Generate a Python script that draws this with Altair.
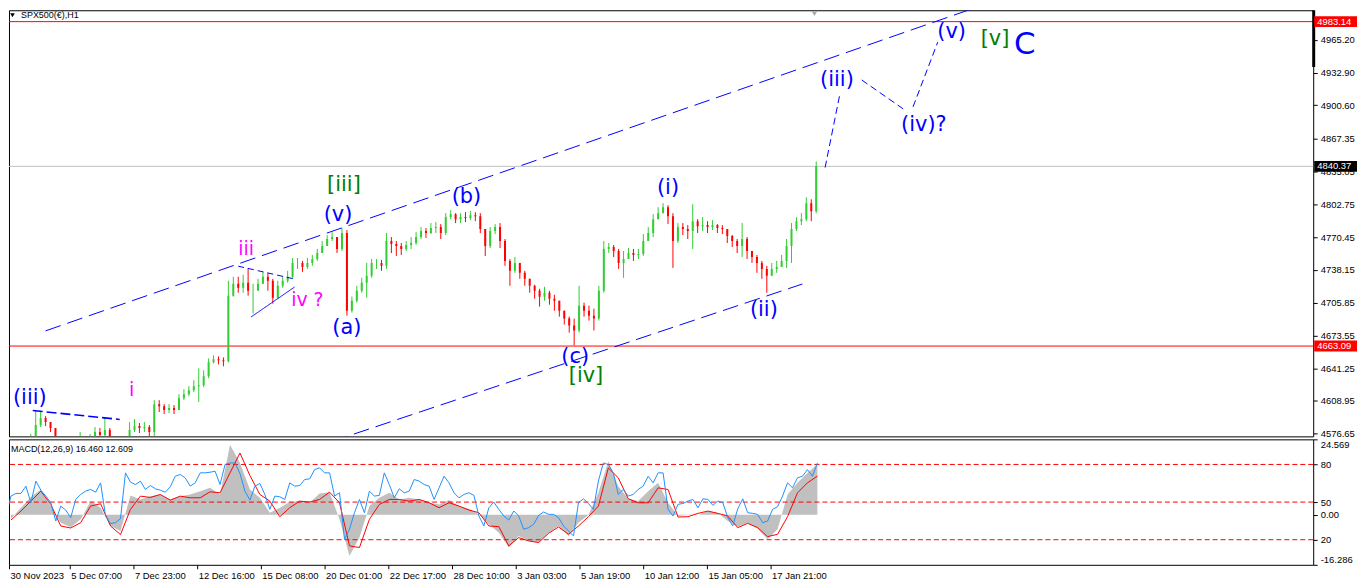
import altair as alt
import pandas as pd

FONT = "Liberation Sans"
WAVE_FONT = "DejaVu Sans"
GREEN = "#32CD32"
RED = "#FF0000"

# ---------------- price data: one candle per 5 hourly bars ----------------
chart_title = "SPX500(€),H1"
candle_step = 5
first_open = 4570.0
closes = [
    4565.6, 4563.6, 4565.6, 4567.5, 4572.4, 4585.2, 4592.1, 4588.1, 4582.3, 4570.5,
    4562.6, 4560.7, 4562.6, 4564.6, 4570.5, 4565.6, 4570.5, 4578.3, 4575.4, 4580.3,
    4570.5, 4562.6, 4560.7, 4565.6, 4580.3, 4584.2, 4582.3, 4583.2, 4578.3, 4605.8,
    4603.8, 4599.9, 4601.9, 4599.9, 4611.7, 4615.6, 4619.5, 4623.5, 4624.4, 4633.3,
    4647.0, 4650.0, 4649.0, 4648.0, 4712.8, 4724.5, 4720.6, 4725.5, 4717.7, 4717.7,
    4724.5, 4731.4, 4727.5, 4710.8, 4722.6, 4727.5, 4731.4, 4745.1, 4745.1, 4741.2,
    4745.1, 4749.0, 4754.9, 4761.8, 4768.7, 4770.6, 4758.9, 4774.6, 4698.0, 4707.8,
    4717.7, 4725.5, 4732.4, 4745.1, 4745.1, 4742.2, 4766.7, 4763.8, 4761.8, 4758.9,
    4762.8, 4764.8, 4770.6, 4776.5, 4774.6, 4779.5, 4780.5, 4774.6, 4790.3, 4793.2,
    4788.3, 4790.3, 4789.3, 4792.2, 4791.2, 4778.5, 4761.8, 4776.5, 4780.5, 4766.7,
    4747.1, 4737.3, 4745.1, 4735.3, 4729.4, 4722.6, 4717.7, 4711.8, 4715.7, 4709.8,
    4707.8, 4698.0, 4690.2, 4683.3, 4678.4, 4702.9, 4698.0, 4693.1, 4690.2, 4717.7,
    4758.9, 4760.8, 4756.9, 4745.1, 4749.0, 4754.9, 4753.0, 4754.0, 4766.7, 4774.6,
    4788.3, 4794.2, 4800.1, 4791.2, 4766.7, 4780.5, 4778.5, 4776.5, 4786.3, 4781.4,
    4782.4, 4780.5, 4782.4, 4779.5, 4778.5, 4771.6, 4766.7, 4761.8, 4768.7, 4756.9,
    4751.0, 4745.1, 4739.2, 4732.4, 4739.2, 4741.2, 4747.1, 4761.8, 4778.5, 4786.3,
    4788.3, 4804.0, 4796.2, 4840.37,
]
highs = [
    4570.5, 4568.5, 4570.5, 4572.4, 4576.4, 4599.9, 4598.0, 4594.0, 4588.1, 4582.3,
    4572.4, 4565.6, 4567.5, 4569.5, 4578.3, 4572.4, 4576.4, 4583.2, 4582.3, 4593.0,
    4582.3, 4572.4, 4566.6, 4570.5, 4588.1, 4591.1, 4587.2, 4588.1, 4585.2, 4609.7,
    4609.7, 4605.8, 4605.8, 4604.8, 4615.6, 4620.5, 4623.5, 4629.3, 4641.1, 4639.2,
    4650.9, 4653.9, 4652.9, 4651.9, 4727.5, 4731.4, 4731.4, 4733.4, 4740.2, 4724.5,
    4729.4, 4736.3, 4735.3, 4729.4, 4727.5, 4732.4, 4737.3, 4750.0, 4750.0, 4747.1,
    4750.0, 4753.0, 4758.9, 4766.7, 4772.6, 4775.5, 4770.6, 4779.5, 4777.5, 4711.8,
    4722.6, 4730.4, 4745.1, 4749.0, 4749.0, 4748.1, 4774.6, 4770.6, 4766.7, 4764.8,
    4766.7, 4770.6, 4775.5, 4780.5, 4779.5, 4784.4, 4785.4, 4783.4, 4794.2, 4797.1,
    4794.2, 4794.2, 4795.2, 4796.2, 4795.2, 4794.2, 4778.5, 4780.5, 4783.4, 4784.4,
    4768.7, 4749.0, 4751.0, 4745.1, 4737.3, 4729.4, 4723.5, 4719.6, 4721.6, 4717.7,
    4713.7, 4707.8, 4698.0, 4692.1, 4690.2, 4722.6, 4705.9, 4702.9, 4700.0, 4722.6,
    4766.7, 4764.8, 4762.8, 4758.9, 4756.9, 4759.8, 4758.9, 4758.9, 4773.6, 4780.5,
    4793.2, 4800.1, 4804.0, 4802.0, 4794.2, 4784.4, 4784.4, 4782.4, 4803.0, 4788.3,
    4790.3, 4786.3, 4787.3, 4783.4, 4782.4, 4778.5, 4772.6, 4768.7, 4784.4, 4770.6,
    4756.9, 4753.0, 4747.1, 4742.2, 4745.1, 4747.1, 4753.0, 4768.7, 4784.4, 4790.3,
    4794.2, 4809.9, 4807.9, 4845.2,
]
lows = [
    4560.7, 4558.7, 4560.7, 4562.6, 4566.6, 4570.5, 4583.2, 4584.2, 4578.3, 4564.6,
    4555.8, 4554.8, 4555.8, 4558.7, 4564.6, 4560.7, 4564.6, 4570.5, 4570.5, 4572.4,
    4564.6, 4556.7, 4554.8, 4558.7, 4563.6, 4578.3, 4577.3, 4578.3, 4572.4, 4574.4,
    4598.0, 4596.0, 4597.0, 4596.0, 4599.9, 4609.7, 4613.6, 4617.6, 4607.8, 4622.5,
    4631.4, 4646.0, 4645.0, 4643.1, 4647.0, 4711.8, 4715.7, 4715.7, 4712.8, 4695.1,
    4717.7, 4724.5, 4717.7, 4704.9, 4709.8, 4720.6, 4725.5, 4729.4, 4739.2, 4736.3,
    4739.2, 4742.2, 4747.1, 4754.9, 4761.8, 4766.7, 4754.9, 4756.9, 4693.1, 4696.1,
    4705.9, 4715.7, 4710.8, 4730.4, 4739.2, 4737.3, 4739.2, 4754.9, 4752.0, 4753.0,
    4756.9, 4758.9, 4762.8, 4768.7, 4769.7, 4773.6, 4774.6, 4768.7, 4772.6, 4788.3,
    4784.4, 4784.4, 4785.4, 4787.3, 4786.3, 4774.6, 4752.0, 4759.8, 4773.6, 4759.8,
    4742.2, 4722.6, 4735.3, 4729.4, 4722.6, 4715.7, 4709.8, 4702.0, 4707.8, 4703.9,
    4698.0, 4692.1, 4684.3, 4676.4, 4663.7, 4676.4, 4692.1, 4688.2, 4678.4, 4688.2,
    4715.7, 4754.9, 4751.0, 4739.2, 4730.4, 4749.0, 4747.1, 4749.0, 4752.0, 4766.7,
    4770.6, 4788.3, 4794.2, 4783.4, 4740.2, 4764.8, 4772.6, 4768.7, 4758.9, 4774.6,
    4776.5, 4774.6, 4777.5, 4774.6, 4773.6, 4764.8, 4760.8, 4754.9, 4751.0, 4749.0,
    4745.1, 4735.3, 4729.4, 4715.7, 4732.4, 4735.3, 4741.2, 4740.2, 4745.1, 4776.5,
    4782.4, 4786.3, 4786.3, 4794.2,
]

price_lo, price_hi = 4574.0, 4994.35
price_ticks = [4965.20, 4932.90, 4900.60, 4867.35, 4835.05, 4802.75, 4770.45,
               4738.15, 4705.85, 4673.55, 4641.25, 4608.95, 4576.65]
red_levels = [4983.14, 4663.09]
last_price = 4840.37

# ---------------- time axis (bar index, one unit per hourly bar) ----------------
x_first, x_last = 3, 1313
time_tick_step = 64
time_labels = ["30 Nov 2023", "5 Dec 07:00", "7 Dec 23:00", "12 Dec 16:00", "15 Dec 08:00",
               "20 Dec 01:00", "22 Dec 17:00", "28 Dec 10:00", "3 Jan 03:00", "5 Jan 19:00",
               "10 Jan 12:00", "15 Jan 05:00", "17 Jan 21:00"]

# ---------------- MACD window ----------------
macd_title = "MACD(12,26,9) 16.460 12.609"
macd_min, macd_max = -16.286, 24.569
macd_first_bar, macd_step = 5, 10
macd_hist = [
    -1.27, 2.30, 5.76, 8.24, 2.84, -2.57, -4.08, -1.49, 4.46, 2.30,
    -3.65, -5.27, 6.30, 5.00, 6.08, 6.62, 5.00, 6.08, 6.62, 7.70,
    8.78, 6.62, 22.8, 16.89, 8.24, 5.54, 0.68, 2.30, 4.14, 4.46,
    3.92, 6.95, 7.38, -1.49, -13.38, -7.43, 2.84, 5.54, 7.16, 5.00,
    5.54, 5.00, 3.92, 3.38, 4.78, 2.84, 1.97, 0.14, -3.11, -5.81,
    -10.67, -6.89, -8.51, -9.05, -5.81, -3.65, -6.89, -2.57, -0.08, 7.16,
    17.43, 9.32, 5.22, 4.46, 7.70, 10.41, 3.92, -0.40, -0.08, -0.08,
    1.22, 0.68, -2.03, -3.86, -2.57, -4.51, -7.97, -4.73, 6.62, 10.41,
    13.65, 16.46,
]
macd_signal = [
    -1.70, 1.22, 4.46, 7.70, 3.38, -3.65, -4.30, -2.57, 2.84, 3.60,
    -3.65, -6.46, 1.76, 6.08, 5.65, 6.62, 4.78, 6.08, 5.54, 5.54,
    7.49, 7.16, 13.65, 20.13, 12.78, 6.62, 4.46, -0.62, 2.30, 4.46,
    4.14, 5.00, 7.38, 3.92, -10.13, -10.67, -1.49, 3.38, 5.00, 5.00,
    4.46, 5.00, 3.92, 2.30, 3.92, 2.84, 1.54, 0.68, -3.65, -3.86,
    -10.13, -7.43, -8.51, -9.05, -6.03, -3.97, -6.35, -3.65, -0.62, 2.84,
    15.27, 12.03, 5.22, 3.92, 3.92, 8.78, 8.24, -0.73, -0.62, 0.46,
    1.22, 0.46, -0.40, -4.19, -2.78, -4.19, -7.11, -6.35, -0.62, 7.16,
    10.41, 12.61,
]
osc_step = 5
osc_levels = [80, 50, 20]
osc_line = [
    38.9, 54.8, 56.9, 56.9, 62.7, 49.5, 66.7, 59.5, 54.8, 49.5,
    34.9, 46.8, 43.6, 37.6, 52.1, 56.1, 58.7, 60.1, 57.9, 65.3,
    38.9, 32.8, 33.6, 36.8, 73.3, 65.9, 64.0, 66.7, 60.1, 63.2,
    60.6, 59.5, 57.9, 62.2, 70.6, 72.0, 69.3, 62.7, 65.3, 73.3,
    73.3, 73.8, 74.6, 64.0, 79.9, 81.2, 81.2, 72.8, 58.7, 51.6,
    62.7, 64.8, 56.1, 44.2, 54.8, 54.2, 52.1, 65.3, 62.7, 63.2,
    68.0, 68.5, 75.9, 77.3, 73.3, 73.3, 54.8, 57.4, 20.4, 28.3,
    41.5, 52.1, 41.5, 58.7, 54.8, 55.3, 73.3, 64.0, 53.4, 60.6,
    57.4, 58.7, 68.0, 66.7, 64.0, 62.7, 52.1, 61.4, 70.6, 65.3,
    57.4, 53.4, 56.1, 57.4, 55.3, 38.9, 31.0, 45.5, 50.0, 44.2,
    38.9, 35.7, 42.9, 38.9, 28.3, 29.6, 32.3, 39.4, 42.1, 40.2,
    40.2, 37.6, 31.0, 27.0, 23.0, 49.5, 52.6, 48.9, 44.2, 66.7,
    81.2, 79.9, 73.3, 56.1, 60.1, 54.8, 56.1, 60.1, 62.7, 70.6,
    65.3, 73.3, 73.3, 44.2, 38.9, 48.2, 48.9, 50.8, 52.1, 45.5,
    52.6, 52.1, 47.4, 50.8, 49.5, 37.6, 31.0, 44.7, 52.6, 41.5,
    41.0, 40.2, 33.6, 34.9, 44.2, 46.3, 54.8, 65.3, 61.4, 69.3,
    70.6, 75.9, 70.6, 81.2,
]

# ---------------- Elliott wave annotations ----------------
wave_text = ["(iii)", "i", "iii", "iv ?", "[iii]", "(v)", "(a)", "(b)", "(c)", "[iv]",
             "(i)", "(ii)", "(iii)", "(iv)?", "(v)", "[v]", "C"]
wave_bar = [19, 122, 238, 300, 337, 331, 340, 461, 571, 582, 665, 762, 836, 924, 952, 996, 1026]
wave_price = [4611.7, 4619.5, 4758.9, 4708.8, 4821.7, 4792.2, 4680.4, 4809.9, 4651.9, 4633.3,
              4818.7, 4699.0, 4925.7, 4881.5, 4972.8, 4965.9, 4960.0]
wave_degree = ["minute", "minuette", "minuette", "minuette", "minor", "minute", "minute",
               "minute", "minute", "minor", "minute", "minute", "minute", "minute", "minute",
               "minor", "intermediate"]

line_id = ["ch_top", "ch_top", "ch_bot", "ch_bot", "iii_line", "iii_line", "tri_top", "tri_top",
           "tri_bot", "tri_bot", "proj1", "proj1", "proj2", "proj2", "proj3", "proj3"]
line_kind = ["channel", "channel", "channel", "channel", "wave", "wave", "triangle", "triangle",
             "solid", "solid", "path", "path", "path", "path", "path", "path"]
line_bar = [35, 985, 325, 801, 22, 110, 230, 287, 243, 287, 824, 839, 861, 903, 913, 938]
line_price = [4678.1, 4999.9, 4569.1, 4724.3, 4599.5, 4590.7, 4741.9, 4729.2, 4691.8, 4721.3,
              4839.2, 4911.9, 4925.6, 4897.1, 4899.1, 4962.9]

# ---------------- styles ----------------
degrees = ["minute", "minuette", "minor", "intermediate"]
degree_colors = ["#0000FF", "#FF00FF", "#008000", "#0000FF"]
degree_sizes = [21, 19, 21, 31]
kinds = ["channel", "wave", "triangle", "solid", "path"]
kind_dash = [[16, 7], [10, 4], [6, 4], [1, 0], [7, 4]]
kind_width = [1, 1.6, 1, 1, 1]

PLOT_W, MAIN_H, MACD_H = 1310, 428, 126
AX_FS = 9.5

# ---------------- frames ----------------
candles = pd.DataFrame({
    "bar": [i * candle_step for i in range(len(closes))],
    "open": [first_open] + closes[:-1],
    "high": highs, "low": lows, "close": closes,
})
levels_df = pd.DataFrame({"price": red_levels})
last_df = pd.DataFrame({"price": [last_price]})
waves_df = pd.DataFrame({"text": wave_text, "bar": wave_bar, "price": wave_price,
                         "degree": wave_degree})
lines_df = pd.DataFrame({"line": line_id, "kind": line_kind, "bar": line_bar,
                         "price": line_price})
tags_df = pd.DataFrame({"price": red_levels + [last_price], "kind": ["level", "level", "last"]})
title_df = pd.DataFrame({"t": [chart_title]})
hist_df = pd.DataFrame({"bar": [macd_first_bar + macd_step * j for j in range(len(macd_hist))],
                        "hist": macd_hist, "signal": macd_signal})
osc_df = pd.DataFrame({"bar": [osc_step * k for k in range(len(osc_line))], "osc": osc_line})
osc_lv_df = pd.DataFrame({"level": osc_levels})
mtitle_df = pd.DataFrame({"t": [macd_title]})

# ---------------- scales / axes ----------------
X_SCALE = alt.Scale(domain=[x_first, x_last], nice=False, zero=False)
time_tick_values = [max(i * time_tick_step, x_first) for i in range(len(time_labels))]
label_expr = ("[" + ",".join("'%s'" % s for s in time_labels) + "][round(datum.value/%d)]"
              % time_tick_step)
TIME_AXIS = alt.Axis(values=time_tick_values, labelExpr=label_expr, labelAlign="left",
                     labelBaseline="top", labelPadding=2, labelOffset=1, tickSize=4,
                     domain=False, grid=False, labelOverlap=False, labelFlush=False,
                     labelBound=False, tickColor="black", labelColor="black",
                     labelFont=FONT, labelFontSize=AX_FS)


def xenc(field, axis=None):
    return alt.X(f"{field}:Q", scale=X_SCALE, axis=axis, title=None)


PRICE_SCALE = alt.Scale(domain=[price_lo, price_hi], nice=False, zero=False)
PRICE_AXIS = alt.Axis(orient="right", values=price_ticks, format=".2f", tickSize=4,
                      labelPadding=3, domain=False, grid=False, labelOverlap=False,
                      labelFlush=False, tickColor="black", labelColor="black",
                      labelFont=FONT, labelFontSize=AX_FS)


def yprice(field):
    return alt.Y(f"{field}:Q", scale=PRICE_SCALE, axis=PRICE_AXIS, title=None)


up = "datum.close >= datum.open"
cand_color = alt.condition(up, alt.value(GREEN), alt.value(RED))

red_rules = alt.Chart(levels_df).mark_rule(color=RED, strokeWidth=1).encode(y=yprice("price"))
last_rule = alt.Chart(last_df).mark_rule(color="#C0C0C0", strokeWidth=1).encode(y=yprice("price"))
wicks = alt.Chart(candles).mark_rule(strokeWidth=1, clip=True).encode(
    x=xenc("bar"), y=yprice("low"), y2="high:Q", color=cand_color)
bodies = alt.Chart(candles).mark_bar(size=2, clip=True).encode(
    x=xenc("bar"), y=yprice("open"), y2="close:Q", color=cand_color)
trend = alt.Chart(lines_df).mark_line(clip=True, color="#0000FF").encode(
    x=xenc("bar"), y=yprice("price"), detail="line:N",
    strokeDash=alt.StrokeDash("kind:N", scale=alt.Scale(domain=kinds, range=kind_dash), legend=None),
    strokeWidth=alt.StrokeWidth("kind:N", scale=alt.Scale(type="ordinal", domain=kinds,
                                                          range=kind_width), legend=None))
waves = alt.Chart(waves_df).mark_text(font=WAVE_FONT, baseline="middle", align="center",
                                      clip=True).encode(
    x=xenc("bar"), y=yprice("price"), text="text:N",
    color=alt.Color("degree:N", scale=alt.Scale(domain=degrees, range=degree_colors), legend=None),
    size=alt.Size("degree:N", scale=alt.Scale(type="ordinal", domain=degrees, range=degree_sizes),
                  legend=None))
title_text = alt.Chart(title_df).mark_text(align="left", baseline="middle", font=FONT,
                                           fontSize=9, color="black").encode(
    x=alt.value(12), y=alt.value(4.5), text="t:N")
title_tri = alt.Chart(title_df).mark_point(shape="triangle-down", filled=True, size=22,
                                           color="black", opacity=1).encode(
    x=alt.value(3.5), y=alt.value(5))
shift_marker = alt.Chart(title_df).mark_point(shape="triangle-down", filled=True, size=30,
                                              color="#A9A9A9", opacity=1).encode(
    x=alt.value(809), y=alt.value(3.5))
edge_bar = alt.Chart(title_df).mark_rect(color="black").encode(
    x=alt.value(PLOT_W - 1), x2=alt.value(PLOT_W + 2), y=alt.value(0), y2=alt.value(57))
tag_boxes = alt.Chart(tags_df).transform_calculate(
    top="datum.price + 5.4", bot="datum.price - 5.4").mark_rect().encode(
    x=alt.value(PLOT_W + 1), x2=alt.value(PLOT_W + 44), y=yprice("top"), y2="bot:Q",
    color=alt.Color("kind:N", scale=alt.Scale(domain=["level", "last"], range=[RED, "#000000"]),
                    legend=None))
tag_text = alt.Chart(tags_df).mark_text(align="left", baseline="middle", color="white",
                                        font=FONT, fontSize=AX_FS).encode(
    x=alt.value(PLOT_W + 4), y=yprice("price"), text=alt.Text("price:Q", format=".2f"))

main = alt.layer(
    last_rule, red_rules, wicks, bodies, trend, waves, title_text, title_tri, shift_marker,
    edge_bar, tag_boxes, tag_text
).resolve_scale(color="independent").properties(width=PLOT_W, height=MAIN_H)

# ---------------- MACD panel ----------------
MACD_SCALE = alt.Scale(domain=[macd_min, macd_max], nice=False, zero=False)
OSC_SCALE = alt.Scale(domain=[0, 100], nice=False, zero=False)
zero_pos = 100 * (0 - macd_min) / (macd_max - macd_min)
macd_label_expr = (
    "datum.value >= 99.99 ? '%.3f' : datum.value <= 0.01 ? '%.3f' : "
    "abs(datum.value - %.4f) < 0.01 ? '0.00' : format(datum.value, 'd')"
    % (macd_max, macd_min, zero_pos))
MACD_AXIS = alt.Axis(orient="right", values=[0, 20, zero_pos, 50, 80, 100],
                     labelExpr=macd_label_expr, tickSize=4, labelPadding=3, domain=False,
                     grid=False, labelOverlap=False, labelFlush=True, labelFlushOffset=0,
                     tickColor="black", labelColor="black", labelFont=FONT,
                     labelFontSize=AX_FS)

hist_area = alt.Chart(hist_df).mark_area(color="#C0C0C0", opacity=1, clip=True).encode(
    x=xenc("bar", TIME_AXIS), y=alt.Y("hist:Q", scale=MACD_SCALE, axis=None, title=None),
    y2=alt.datum(0))
osc_levels_rule = alt.Chart(osc_lv_df).mark_rule(color=RED, strokeDash=[5, 3], strokeWidth=1).encode(
    y=alt.Y("level:Q", scale=OSC_SCALE, axis=None, title=None))
signal_line = alt.Chart(hist_df).mark_line(color=RED, strokeWidth=1, clip=True).encode(
    x=xenc("bar", TIME_AXIS), y=alt.Y("signal:Q", scale=MACD_SCALE, axis=None, title=None))
osc_plot = alt.Chart(osc_df).mark_line(color="#1E90FF", strokeWidth=1, clip=True).encode(
    x=xenc("bar", TIME_AXIS), y=alt.Y("osc:Q", scale=OSC_SCALE, axis=MACD_AXIS, title=None))
macd_text = alt.Chart(mtitle_df).mark_text(align="left", baseline="middle", font=FONT,
                                           fontSize=9, color="black").encode(
    x=alt.value(2), y=alt.value(9.5), text="t:N")

macd = alt.layer(hist_area, osc_levels_rule, signal_line, osc_plot, macd_text).resolve_scale(
    y="independent").properties(width=PLOT_W, height=MACD_H)

chart = alt.vconcat(main, macd, spacing=3, bounds="flush").resolve_scale(
    x="independent", y="independent"
).properties(
    padding=0, background="white"
).configure_view(stroke="black", strokeWidth=1)

chart.save("out.html", embed_options={"renderer": "svg", "actions": False})
